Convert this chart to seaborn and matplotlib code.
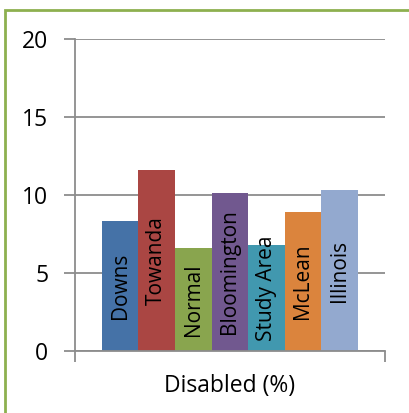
import matplotlib
matplotlib.use("Agg")
import matplotlib.pyplot as plt
import matplotlib.patches as mpatches
import seaborn as sns
import pandas as pd

# Share of population with a disability, by area
places = ["Downs", "Towanda", "Normal", "Bloomington", "Study Area", "McLean", "Illinois"]
disabled_pct = [8.3, 11.6, 6.6, 10.1, 6.8, 8.9, 10.3]
group_label = "Disabled (%)"
colors = ["#4572A7", "#AA4643", "#89A54E", "#71588F", "#4198AF", "#DB843D", "#93A9CF"]
y_ticks = [0, 5, 10, 15, 20]

df = pd.DataFrame({"group": [group_label] * len(places),
                   "place": places,
                   "value": disabled_pct})

sns.set_theme(style="white")
plt.rcParams["font.family"] = ["Open Sans", "DejaVu Sans"]

fig = plt.figure(figsize=(4.09, 4.13), dpi=100)
ax = fig.add_axes([0.1826, 0.1508, 0.7587, 0.7547])

sns.barplot(data=df, x="group", y="value", hue="place", hue_order=places,
            palette=colors, width=0.825, dodge=True, saturation=1,
            legend=False, ax=ax, linewidth=0)

grid_c = "#8C8C8C"
ax.set_xlim(-0.5, 0.5)
ax.set_ylim(0, 20)
ax.set_yticks(y_ticks)
ax.yaxis.grid(True, color=grid_c, linewidth=1.3)
ax.set_axisbelow(True)
for s in ["top", "right"]:
    ax.spines[s].set_visible(False)
for s in ["left", "bottom"]:
    ax.spines[s].set_color(grid_c)
    ax.spines[s].set_linewidth(1.3)

ax.tick_params(axis="y", length=8, width=1.3, color=grid_c, direction="out",
               labelsize=16.5, labelcolor="black", pad=11, left=True)
ax.tick_params(axis="x", which="major", length=0, labelsize=16.5,
               labelcolor="black", pad=17)
ax.set_xticks([-0.5, 0.5], minor=True)
ax.tick_params(axis="x", which="minor", length=8, width=1.3, color=grid_c,
               direction="out", bottom=True)
ax.set_xlabel("")
ax.set_ylabel("")

# Area names written vertically, centred in each bar but kept clear of the axis
labels = []
for bar, name in zip(ax.patches, places):
    t = ax.text(bar.get_x() + bar.get_width() / 2, bar.get_height() / 2, name,
                rotation=90, ha="center", va="center", fontsize=15, color="black")
    labels.append(t)

fig.canvas.draw()
renderer = fig.canvas.get_renderer()
axis_bottom_px = ax.transData.transform((0, 0))[1]
min_gap_px = 10
for t in labels:
    bb = t.get_window_extent(renderer)
    if bb.y0 < axis_bottom_px + min_gap_px:
        shift = axis_bottom_px + min_gap_px - bb.y0
        x_px, y_px = ax.transData.transform(t.get_position())
        t.set_position(ax.transData.inverted().transform((x_px, y_px + shift)))

# Chart frame
frame = mpatches.Rectangle((5 / 409, -0.05), 1.2, 1 - 9.5 / 413 + 0.05,
                           transform=fig.transFigure, fill=False,
                           edgecolor="#8DB04F", linewidth=2, clip_on=False)
fig.patches.append(frame)

fig.savefig("out.png", dpi=100)
